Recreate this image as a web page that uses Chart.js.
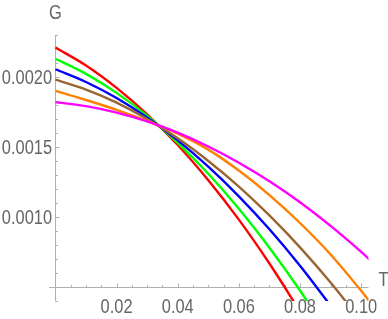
<!DOCTYPE html>
<html>
<head>
<meta charset="utf-8">
<script src="https://cdn.jsdelivr.net/npm/chart.js@4"></script>
<style>
  html, body { margin: 0; padding: 0; background: #ffffff; }
  #wrap { width: 388px; height: 319px; position: relative; }
</style>
</head>
<body>
<div id="wrap"><canvas id="c" width="388" height="319"></canvas></div>
<script>
// ---- data ----
const T = [0, 0.01, 0.02, 0.03, 0.04, 0.05, 0.06, 0.07, 0.08, 0.09, 0.10, 0.105];
const red     = [0.00221, 0.002082, 0.001922, 0.001733, 0.001513, 0.001261, 0.000979, 0.000665, 0.000322, null, null, null];
const green   = [0.00213, 0.002022, 0.001886, 0.001722, 0.001528, 0.001307, 0.001057, 0.000778, 0.000472, 0.000136, null, null];
const blue    = [0.002055, 0.001964, 0.001849, 0.00171, 0.001546, 0.001358, 0.001146, 0.00091, 0.000649, 0.000364, null, null];
const brown   = [0.00198, 0.001909, 0.001816, 0.001699, 0.001561, 0.001399, 0.001216, 0.001009, 0.000781, 0.000529, 0.000254, null];
const orange  = [0.0019, 0.001835, 0.001765, 0.001685, 0.001595, 0.00148, 0.00133, 0.001155, 0.000955, 0.00073, 0.00047, 0.00033];
const magenta = [0.00182, 0.001791, 0.001745, 0.001682, 0.001601, 0.001502, 0.001386, 0.001253, 0.001103, 0.000934, 0.000748, 0.000648];

const xTicks = [0.02, 0.04, 0.06, 0.08, 0.10];
const xTickLabels = ["0.02", "0.04", "0.06", "0.08", "0.10"];
const yTicks = [0.0010, 0.0015, 0.0020];
const yTickLabels = ["0.0010", "0.0015", "0.0020"];
const xMinorStep = 0.005;
const yMinorStep = 0.0001;
const xLabel = "T";
const yLabel = "G";

const seriesList = [
  { name: "magenta", values: magenta, color: "#ff00ff" },
  { name: "orange",  values: orange,  color: "#ff8000" },
  { name: "brown",   values: brown,   color: "#996633" },
  { name: "blue",    values: blue,    color: "#0000ff" },
  { name: "green",   values: green,   color: "#00ff00" },
  { name: "red",     values: red,     color: "#ff0000" }
];

function toPoints(vals) {
  const pts = [];
  for (let i = 0; i < T.length; i++) {
    if (vals[i] !== null) pts.push({ x: T[i], y: vals[i] });
  }
  return pts;
}

const AXIS_X_AT = 0.0005; // G value where the T axis sits
const AXIS_Y_AT = 0;      // T value where the G axis sits
const AXIS_COLOR = "#b0b0b0";
const TEXT_COLOR = "#666666";
const FONT = "20px 'Liberation Sans', Arial, sans-serif";
const TEXT_SX = 0.82; // horizontal squeeze of the reference lettering

function squeezedText(ctx, text, x, y, align) {
  ctx.save();
  ctx.translate(x, y);
  ctx.scale(TEXT_SX, 1);
  ctx.textAlign = align;
  ctx.fillText(text, 0, 0);
  ctx.restore();
}

const axesPlugin = {
  id: "mmaAxes",
  beforeDatasetsDraw(chart) {
    const ctx = chart.ctx;
    const xs = chart.scales.x, ys = chart.scales.y;
    const area = chart.chartArea;
    const ax = Math.round(xs.getPixelForValue(AXIS_Y_AT)) + 0.5;
    const ay = Math.round(ys.getPixelForValue(AXIS_X_AT)) + 0.5;
    ctx.save();
    ctx.strokeStyle = AXIS_COLOR;
    ctx.lineWidth = 1;
    ctx.beginPath();
    ctx.moveTo(area.left, ay); ctx.lineTo(area.right, ay);
    ctx.moveTo(ax, area.top); ctx.lineTo(ax, area.bottom);
    // x ticks (minor + major), pointing up
    for (let k = 1; k * xMinorStep <= xs.max + 1e-9; k++) {
      const v = k * xMinorStep;
      const p = Math.round(xs.getPixelForValue(v)) + 0.5;
      const isMajor = k % 4 === 0;
      const len = isMajor ? 4 : 2.5;
      ctx.moveTo(p, ay); ctx.lineTo(p, ay - len);
    }
    // y ticks, pointing right
    for (let k = Math.ceil(ys.min / yMinorStep); k * yMinorStep <= ys.max + 1e-12; k++) {
      const v = k * yMinorStep;
      const p = Math.round(ys.getPixelForValue(v)) + 0.5;
      const isMajor = k % 5 === 0;
      const len = isMajor ? 4 : 2.5;
      ctx.moveTo(ax, p); ctx.lineTo(ax + len, p);
    }
    ctx.stroke();

    ctx.fillStyle = TEXT_COLOR;
    ctx.font = FONT;
    ctx.textBaseline = "alphabetic";
    xTicks.forEach((v, i) => {
      squeezedText(ctx, xTickLabels[i], xs.getPixelForValue(v), ay + 25, "center");
    });
    yTicks.forEach((v, i) => {
      squeezedText(ctx, yTickLabels[i], ax - 3.5, ys.getPixelForValue(v) + 7.5, "right");
    });
    squeezedText(ctx, yLabel, ax, 19, "center");
    squeezedText(ctx, xLabel, area.right + 10, ay - 1.5, "left");
    ctx.restore();
  }
};

new Chart(document.getElementById("c"), {
  type: "line",
  data: {
    datasets: seriesList.map(s => ({
      label: s.name,
      data: toPoints(s.values),
      borderColor: s.color,
      backgroundColor: s.color,
      borderWidth: 2.4,
      pointRadius: 0,
      fill: false,
      cubicInterpolationMode: "monotone",
      spanGaps: false
    }))
  },
  options: {
    responsive: false,
    animation: false,
    events: [],
    layout: { padding: { left: 49, top: 35, right: 19.5, bottom: 18 } },
    plugins: { legend: { display: false }, tooltip: { enabled: false } },
    scales: {
      x: { type: "linear", min: -0.0021, max: 0.1024, display: false },
      y: { type: "linear", min: 0.000397, max: 0.0023, display: false }
    }
  },
  plugins: [axesPlugin]
});
</script>
</body>
</html>
